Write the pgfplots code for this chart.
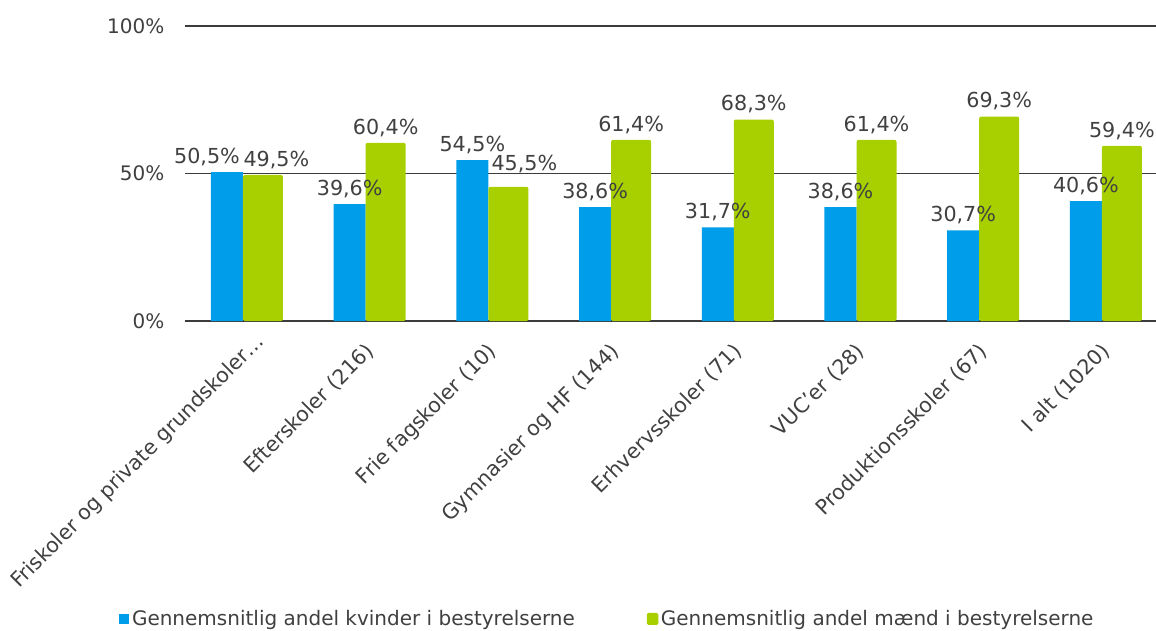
\documentclass[border=0pt]{standalone}
\usepackage{pgfplots}
\usepackage{pgfplotstable}
\pgfplotsset{compat=1.18}
\usepackage{fontspec}
\setmainfont{DejaVu Sans}
\definecolor{cblue}{RGB}{0,158,234}
\definecolor{cgreen}{RGB}{168,208,0}
\definecolor{ctext}{RGB}{64,64,64}
\definecolor{cgrid}{RGB}{60,60,60}

\pgfplotstableread{
x y dx dy
0 50.5 -27 4.5
1 39.6 -12 4.5
2 54.5 -12 4.5
3 38.6 -12 4.5
4 31.7 -12 4.5
5 38.6 -12 4.5
6 30.7 -12 4.5
7 40.6 -12 4.5
}\kvinder

\pgfplotstableread{
x y dx dy
0 49.5 25 4.5
1 60.4 15 4.5
2 45.5 27 10.5
3 61.4 15 4.5
4 68.3 15 4.5
5 61.4 15 4.5
6 69.3 15 4.5
7 59.4 15 4.5
}\maend

\begin{document}
\begin{tikzpicture}
\path[use as bounding box] (-138.75pt,-232.5pt) rectangle (728.25pt,240.75pt);
\begin{axis}[
  at={(0pt,0pt)}, anchor=south west,
  scale only axis, width=728.25pt, height=221.25pt,
  xmin=-0.4727, xmax=7.441, ymin=0, ymax=100,
  axis line style={draw=none},
  major tick length=0pt,
  ymajorgrids,
  major grid style={color=cgrid, line width=1.4pt},
  ytick={0,50,100},
  yticklabel={\pgfmathprintnumber{\tick}\%},
  yticklabel style={font=\fontsize{15}{18}\selectfont, text=ctext, xshift=-12pt},
  xtick={0,...,7},
  xticklabels={{\makebox[\dimexpr\width-12.2pt\relax][l]{\raisebox{-1.6pt}[\height][\depth]{Friskoler og private grundskoler…}}}, Efterskoler (216), Frie fagskoler (10), Gymnasier og HF (144), Erhvervsskoler (71), VUC’er (28), Produktionsskoler (67), I alt (1020)},
  xticklabel style={xshift=-1.5pt, yshift=-15pt, rotate=45, anchor=north east, inner sep=0pt, font=\fontsize{15.5}{18}\selectfont, text=ctext},
  /pgf/number format/assume math mode=true,
  legend columns=2,
  legend style={draw=none, fill=none, at={(-0.072,-1.01)}, anchor=west,
    font=\fontsize{15}{18}\selectfont, text=ctext,
    /tikz/every even column/.append style={column sep=52pt},
    /tikz/every odd column/.append style={column sep=0pt}},
  clip=false,
]
\addplot[ybar, bar width=0.261, bar shift=-0.1305, fill=cblue, draw=none,
  visualization depends on={\thisrow{dx} \as \myDx},
  visualization depends on={\thisrow{dy} \as \myDy},
  nodes near coords={\pgfmathprintnumber[fixed,fixed zerofill,precision=1,use comma]{\pgfplotspointmeta}\%},
  every node near coord/.append style={anchor=south, inner sep=0pt, xshift=\myDx pt, yshift=\myDy pt, font=\fontsize{15.5}{18}\selectfont, text=ctext},
  legend image code/.code={\fill[cblue] (0pt,-3.75pt) rectangle (7.5pt,3.75pt);}
] table[x=x,y=y] {\kvinder};
\addlegendentry{Gennemsnitlig andel kvinder i bestyrelserne}
\addplot[ybar, bar width=0.326, bar shift=0.163, fill=cgreen, draw=none, rounded corners=1.5pt,
  visualization depends on={\thisrow{dx} \as \myDx},
  visualization depends on={\thisrow{dy} \as \myDy},
  nodes near coords={\pgfmathprintnumber[fixed,fixed zerofill,precision=1,use comma]{\pgfplotspointmeta}\%},
  every node near coord/.append style={anchor=south, inner sep=0pt, xshift=\myDx pt, yshift=\myDy pt, font=\fontsize{15.5}{18}\selectfont, text=ctext, rounded corners=0pt},
  legend image code/.code={\fill[cgreen, rounded corners=1pt] (0pt,-4.5pt) rectangle (8.5pt,4.5pt);}
] table[x=x,y=y] {\maend};
\addlegendentry{Gennemsnitlig andel mænd i bestyrelserne}
\end{axis}
\end{tikzpicture}
\end{document}
